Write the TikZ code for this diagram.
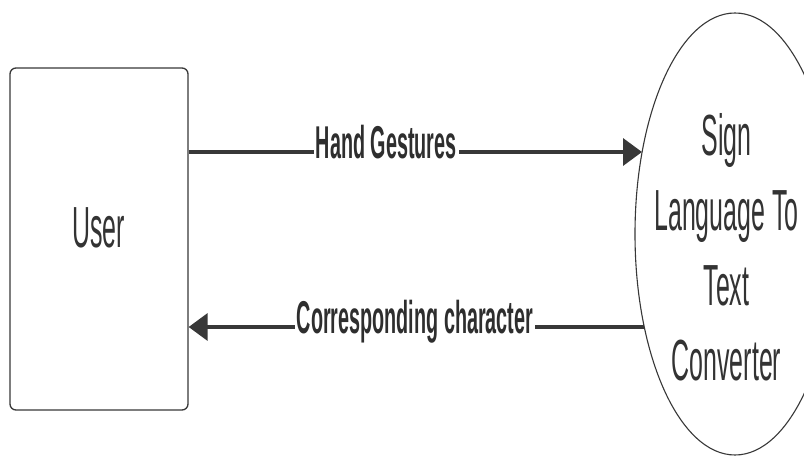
\documentclass[tikz,border=0pt]{standalone}
\usepackage{fontspec}
\usetikzlibrary{shapes.geometric,arrows.meta}
% narrow sans face used for every label
\newfontfamily\narrowsans[FakeStretch=0.43]{Liberation Sans}
\tikzset{
  ink/.style={draw=black!78},
  entity/.style={ink, line width=1.3pt, rounded corners=6pt, fill=white,
    minimum width=178pt, minimum height=342pt, inner sep=0pt},
  process/.style={ink, line width=1.1pt, ellipse, fill=white,
    minimum width=200pt, minimum height=442pt, inner sep=0pt},
  bigtext/.style={text=black!80, inner sep=0pt,
    font=\narrowsans\fontsize{58}{75}\selectfont, align=center},
  flow/.style={draw=black!78, line width=3.6pt,
    -{Triangle[length=19pt,width=27pt]}},
  lbl/.style={fill=white, text=black!82, inner xsep=2pt, inner ysep=1pt,
    font=\narrowsans\bfseries\fontsize{46}{50}\selectfont, anchor=base, yshift=-7pt}
}
\begin{document}
\begin{tikzpicture}[x=1pt,y=-1pt]
  \useasboundingbox[fill=white] (0,0) rectangle (804,462);

  % external entity and process
  \node[entity] (user) at (99,239) {};
  \node[bigtext, anchor=base] (usertext) at (98.5,248) {User};
  \node[process] (conv) at (735,234) {};
  \node[bigtext, anchor=north] (convtext) at (726.5,113)
    {Sign\\Language To\\Text\\Converter};

  % data flows between them
  \coordinate (gin) at (642,152);
  \coordinate (cout) at (644,327);
  \draw[flow] (user.east |- gin) -- node[lbl, pos=0.436] (hg) {Hand Gestures} (gin);
  \draw[flow] (cout) -- node[lbl, pos=0.503] (cc) {Corresponding character} (user.east |- cout);
\end{tikzpicture}
\end{document}
